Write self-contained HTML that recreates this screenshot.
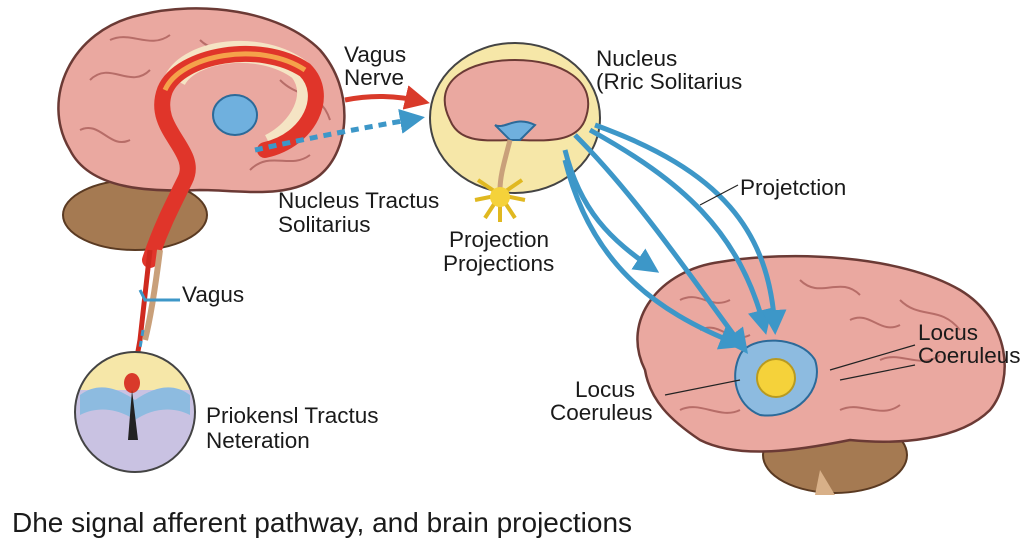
<!DOCTYPE html>
<html><head><meta charset="utf-8">
<style>
html,body{margin:0;padding:0;background:#fff;}
svg{display:block;}
text{font-family:"Liberation Sans",sans-serif;fill:#1a1a1a;}
</style></head>
<body>
<svg width="1024" height="559" viewBox="0 0 1024 559" xmlns="http://www.w3.org/2000/svg">
<defs>
<marker id="ab" viewBox="0 0 10 10" refX="8" refY="5" markerWidth="5" markerHeight="5" orient="auto"><path d="M0,0L10,5L0,10z" fill="#3d97c8"/></marker>
<marker id="ar" viewBox="0 0 10 10" refX="8" refY="5" markerWidth="5" markerHeight="5" orient="auto"><path d="M0,0L10,5L0,10z" fill="#d93a2a"/></marker>
</defs>
<rect width="1024" height="559" fill="#fff"/>

<!-- LEFT BRAIN -->
<ellipse cx="135" cy="215" rx="72" ry="35" fill="#a57a52" stroke="#5a3a22" stroke-width="2"/>
<path d="M70,150 C40,100 70,30 140,15 C200,0 280,10 320,50 C355,90 350,150 320,175 C290,200 240,190 200,190 C150,192 90,190 70,150z" fill="#eaa8a0" stroke="#6b3a35" stroke-width="2.5"/>
<g fill="none" stroke="#b76d68" stroke-width="2">
<path d="M90,80 C110,60 130,90 150,70"/><path d="M200,40 C220,60 240,35 260,55"/><path d="M280,80 C300,100 320,90 330,120"/><path d="M80,130 C100,120 110,150 130,140"/><path d="M250,170 C270,150 290,170 310,155"/><path d="M110,40 C130,30 150,50 170,35"/>
</g>
<path d="M175,80 C190,50 260,40 300,70 C320,95 300,130 270,145" fill="none" stroke="#f5e4c4" stroke-width="22"/>
<path d="M165,90 C180,55 260,40 305,70 C330,95 310,140 265,150 M165,90 C150,130 200,150 185,180 C170,210 160,230 150,260" fill="none" stroke="#e0352a" stroke-width="16" stroke-linecap="round"/>
<path d="M165,90 C180,55 260,40 305,70" fill="none" stroke="#f5a24a" stroke-width="5"/>
<ellipse cx="235" cy="115" rx="22" ry="20" fill="#6fb0de" stroke="#2c6a99" stroke-width="2"/>
<path d="M150,250 L140,340 L132,385" fill="none" stroke="#cf2a1f" stroke-width="5"/>
<path d="M160,250 C155,290 150,320 145,340" fill="none" stroke="#c9a07a" stroke-width="6"/>
<path d="M180,300 L145,300 L140,290" fill="none" stroke="#3d97c8" stroke-width="3"/>
<path d="M143,330 L138,360" fill="none" stroke="#3d97c8" stroke-width="3" stroke-dasharray="6,5"/>
<path d="M255,150 C300,140 350,130 420,118" fill="none" stroke="#3d97c8" stroke-width="5" stroke-dasharray="8,6" marker-end="url(#ab)"/>
<path d="M345,100 C370,95 395,95 425,102" fill="none" stroke="#d93a2a" stroke-width="5" marker-end="url(#ar)"/>

<!-- bottom circle -->
<clipPath id="cc"><circle cx="135" cy="412" r="60"/></clipPath>
<g clip-path="url(#cc)">
<rect x="70" y="350" width="130" height="130" fill="#c9c2e2"/>
<rect x="70" y="350" width="130" height="40" fill="#f6e7a8"/>
<path d="M80,395 C100,380 120,390 135,400 C150,390 170,380 190,395 L190,415 C170,405 150,410 135,420 C120,410 100,405 80,415z" fill="#8dbbe0"/>
</g>
<circle cx="135" cy="412" r="60" fill="none" stroke="#444" stroke-width="2"/>
<ellipse cx="132" cy="383" rx="8" ry="10" fill="#d93a2a"/>
<path d="M132,390 L128,440 L138,440z" fill="#222"/>

<!-- MIDDLE -->
<ellipse cx="515" cy="118" rx="85" ry="75" fill="#f6e7a8" stroke="#444" stroke-width="2"/>
<path d="M450,120 C430,80 470,60 515,60 C560,60 600,80 585,120 C575,145 540,140 515,140 C490,140 460,145 450,120z" fill="#eaa8a0" stroke="#6b3a35" stroke-width="2"/>
<path d="M495,125 C505,130 515,115 535,125 L520,140 L510,140z" fill="#6fb0de" stroke="#2c6a99" stroke-width="2"/>
<path d="M510,140 C505,160 500,175 500,190" fill="none" stroke="#c9a07a" stroke-width="5"/>
<g stroke="#e0b820" stroke-width="4">
<line x1="500" y1="195" x2="478" y2="180"/><line x1="500" y1="195" x2="522" y2="180"/><line x1="500" y1="195" x2="475" y2="200"/><line x1="500" y1="195" x2="525" y2="200"/><line x1="500" y1="195" x2="485" y2="218"/><line x1="500" y1="195" x2="515" y2="218"/><line x1="500" y1="195" x2="500" y2="222"/>
</g>
<circle cx="500" cy="197" r="10" fill="#f5d23a"/>

<!-- RIGHT BRAIN -->
<ellipse cx="835" cy="455" rx="72" ry="38" fill="#a57a52" stroke="#5a3a22" stroke-width="2"/>
<path d="M820,470 L835,495 L815,495z" fill="#d8b088"/>
<path d="M645,370 C620,320 660,270 720,262 C790,250 900,255 960,290 C1010,320 1015,380 990,410 C960,440 900,445 850,440 C800,450 740,460 700,440 C670,420 650,400 645,370z" fill="#eaa8a0" stroke="#6b3a35" stroke-width="2.5"/>
<g fill="none" stroke="#b76d68" stroke-width="2">
<path d="M680,300 C700,290 710,310 730,300"/><path d="M800,280 C820,300 840,275 860,295"/><path d="M900,300 C920,320 940,305 960,330"/><path d="M880,360 C900,350 920,370 940,355"/><path d="M680,410 C700,400 720,420 740,410"/><path d="M840,410 C860,400 880,420 900,405"/><path d="M700,330 C720,320 730,345 750,335"/><path d="M850,320 C870,310 880,335 900,325"/>
</g>
<path d="M740,355 C750,335 800,335 815,360 C825,390 795,420 760,415 C735,405 730,375 740,355z" fill="#8dbbe0" stroke="#2c6a99" stroke-width="2"/>
<circle cx="776" cy="378" r="19" fill="#f5d23a" stroke="#b89a20" stroke-width="2"/>

<!-- arrows to right brain (on top) -->
<g fill="none" stroke="#3d97c8" stroke-width="5" marker-end="url(#ab)">
<path d="M565,150 C580,210 610,240 655,270"/>
<path d="M565,160 C590,260 650,310 740,345"/>
<path d="M575,135 C640,200 700,290 745,350"/>
<path d="M590,130 C680,180 740,230 765,330"/>
<path d="M595,125 C720,170 770,230 775,330"/>
</g>
<g stroke="#222" stroke-width="1.2">
<line x1="738" y1="185" x2="700" y2="205"/>
<line x1="915" y1="345" x2="830" y2="370"/>
<line x1="915" y1="365" x2="840" y2="380"/>
<line x1="665" y1="395" x2="740" y2="380"/>
</g>

<!-- labels -->
<g font-size="22.5">
<text x="344" y="62">Vagus</text><text x="344" y="85">Nerve</text>
<text x="596" y="66">Nucleus</text><text x="596" y="89">(Rric Solitarius</text>
<text x="278" y="208">Nucleus Tractus</text><text x="278" y="232">Solitarius</text>
<text x="449" y="247">Projection</text><text x="443" y="271">Projections</text>
<text x="740" y="195">Projetction</text>
<text x="182" y="302">Vagus</text>
<text x="918" y="340">Locus</text><text x="918" y="363">Coeruleus</text>
<text x="575" y="397">Locus</text><text x="550" y="420">Coeruleus</text>
<text x="206" y="423">Priokensl Tractus</text><text x="206" y="448">Neteration</text>
</g>
<text x="12" y="532" font-size="28">Dhe signal afferent pathway, and brain projections</text>
</svg>
</body></html>
